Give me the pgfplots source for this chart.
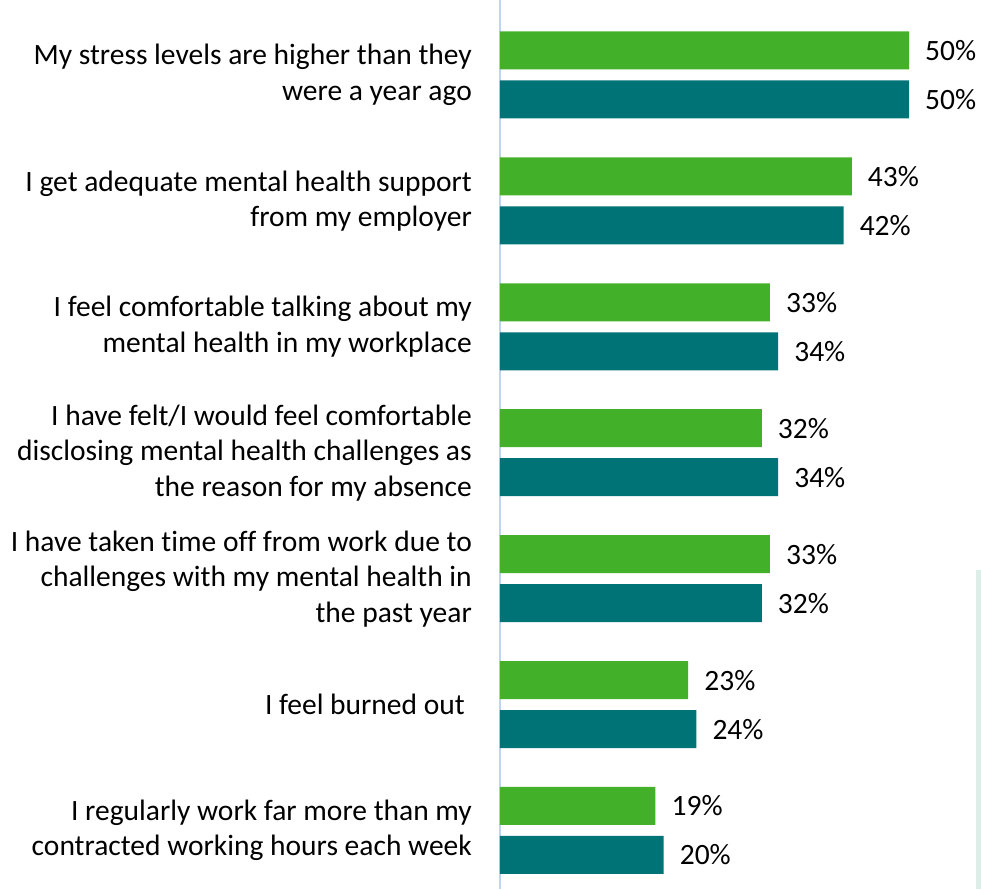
\documentclass[border=0pt]{standalone}
\usepackage{pgfplots}
\pgfplotsset{compat=1.18}
\usepackage{fontspec}
\setmainfont{Carlito}[Ligatures={NoCommon}]
\definecolor{cgreen}{RGB}{67,176,42}
\definecolor{cteal}{RGB}{0,115,119}
\definecolor{caxis}{RGB}{190,212,240}
\definecolor{cfaint}{RGB}{221,237,232}
\begin{document}
\fontsize{29.5pt}{35.5pt}\selectfont
\begin{tikzpicture}
\begin{axis}[
  name=ax,
  scale only axis,
  width=481pt, height=889pt,
  xbar, bar width=38pt,
  xmin=0, xmax=58.8,
  ymin=-0.4647, ymax=6.5957,
  hide x axis,
  axis y line=left,
  y axis line style={-, color=caxis, line width=1.5pt},
  ytick={0,...,6},
  yticklabels={
    {I regularly work far more than my\\contracted working hours each week},
    {I feel burned out\hspace*{7pt}},
    {I have taken time off from work due to\\challenges with my mental health in\\the past year},
    {I have felt/I would feel comfortable\\disclosing mental health challenges as\\the reason for my absence},
    {I feel comfortable talking about my\\mental health in my workplace},
    {I get adequate mental health support\\from my employer},
    {My stress levels are higher than they\\were a year ago}},
  yticklabel style={align=right, inner sep=0pt, xshift=-28pt, font=\fontsize{29.5pt}{35.5pt}\selectfont},
  major tick length=0pt,
  ytick style={draw=none},
  clip=false,
  /pgf/number format/assume math mode=true,
  nodes near coords={\pgfmathprintnumber{\pgfplotspointmeta}\%},
  nodes near coords style={anchor=west, inner sep=0pt, xshift=16pt, font=\fontsize{29.5pt}{35.5pt}\selectfont, text=black},
]
\addplot[fill=cgreen, draw=none, bar shift=24.5pt] coordinates {
  (19,0) (23,1) (33,2) (32,3) (33,4) (43,5) (50,6)};
\addplot[fill=cteal, draw=none, bar shift=-24.5pt] coordinates {
  (20,0) (24,1) (32,2) (34,3) (34,4) (42,5) (50,6)};
\end{axis}
\fill[cfaint] ([xshift=-5pt, yshift=-570pt]ax.north east) rectangle (ax.south east);
\pgfresetboundingbox
\path[use as bounding box] ([xshift=-500pt]ax.south west) rectangle (ax.north east);
\end{tikzpicture}
\end{document}
